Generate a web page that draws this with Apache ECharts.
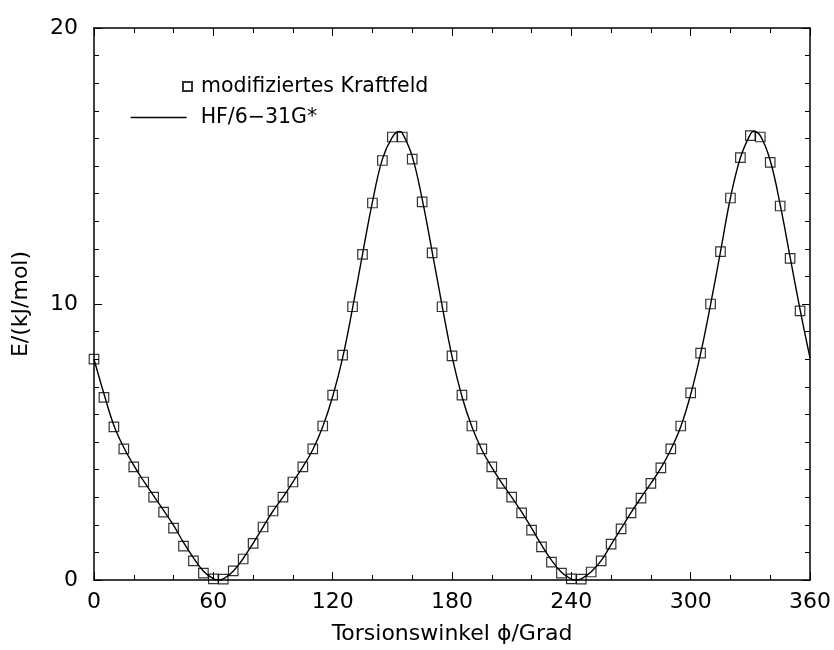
<!DOCTYPE html>
<html>
<head>
<meta charset="utf-8">
<script src="https://cdn.jsdelivr.net/npm/echarts@6/dist/echarts.min.js"></script>
<style>
html,body{margin:0;padding:0;background:#fff;}
#chart{width:834px;height:650px;}
</style>
</head>
<body>
<div id="chart"></div>
<script>
// Torsion angles (degrees) of the force-field points
var ffAngles = [0,5,10,15,20,25,30,35,40,45,50,55,60,65,70,75,80,85,90,95,100,105,110,115,120,125,130,135,140,145,150,155,160,165,170,175,180,185,190,195,200,205,210,215,220,225,230,235,240,245,250,255,260,265,270,275,280,285,290,295,300,305,310,315,320,325,330,335,340,345,350,355];
// "modifiziertes Kraftfeld" energies (kJ/mol)
var ffEnergy = [8.0,6.62,5.55,4.75,4.1,3.55,3.0,2.46,1.88,1.23,0.69,0.25,0.04,0.03,0.33,0.76,1.33,1.92,2.5,3.0,3.55,4.1,4.75,5.58,6.7,8.15,9.9,11.8,13.66,15.2,16.05,16.05,15.25,13.7,11.85,9.9,8.12,6.7,5.58,4.75,4.1,3.5,3.0,2.43,1.81,1.2,0.65,0.25,0.04,0.03,0.29,0.69,1.3,1.85,2.43,2.97,3.5,4.06,4.75,5.58,6.78,8.22,10.0,11.9,13.84,15.3,16.1,16.05,15.13,13.55,11.65,9.75];
// HF/6-31G* curve: angles and energies
var hfAngles = [0,5,10,15,20,25,30,35,40,45,50,55,60,62,65,70,75,80,85,90,95,100,105,110,115,120,125,130,135,140,145,150,153.5,155,160,165,170,175,180,185,190,195,200,205,210,215,220,225,230,235,240,242,245,250,255,260,265,270,275,280,285,290,295,300,305,310,315,320,325,330,331.5,335,340,345,350,355,360];
var hfEnergy = [8.0,6.75,5.6,4.8,4.15,3.58,3.05,2.52,1.98,1.36,0.8,0.32,0.05,0.0,0.04,0.32,0.78,1.33,1.92,2.5,3.0,3.55,4.1,4.72,5.55,6.65,8.05,9.85,11.8,13.7,15.25,16.05,16.25,16.2,15.35,13.8,11.9,9.95,8.1,6.65,5.55,4.72,4.08,3.52,3.0,2.47,1.88,1.27,0.72,0.28,0.03,0.0,0.04,0.3,0.7,1.28,1.86,2.44,2.98,3.5,4.05,4.72,5.55,6.72,8.2,9.98,11.9,13.85,15.3,16.15,16.25,16.1,15.2,13.6,11.7,9.8,8.05];
var xTicks = [0,60,120,180,240,300,360];
var yTicks = [0,10,20];

var FONT = '"DejaVu Sans", "Liberation Sans", Arial, sans-serif';
var ffData = ffAngles.map(function(a,i){return [a, ffEnergy[i]];});
var hfData = hfAngles.map(function(a,i){return [a, hfEnergy[i]];});

var axisLine = {show:true, onZero:false, lineStyle:{color:'#000', width:1.5}};
function xAxisCfg(pos, showLabel){
  return {
    type:'value', position:pos, min:xTicks[0], max:xTicks[xTicks.length-1], interval:60,
    axisLine:axisLine,
    axisTick:{show:true, inside:true, length:8, lineStyle:{color:'#000', width:1}},
    minorTick:{show:true, splitNumber:3, length:5, lineStyle:{color:'#000', width:1}},
    splitLine:{show:false}, minorSplitLine:{show:false},
    axisLabel:{show:showLabel, color:'#000', fontSize:22, fontFamily:FONT, margin:11},
    name: showLabel ? 'Torsionswinkel \u03D5/Grad' : '',
    nameLocation:'middle', nameGap:43,
    nameTextStyle:{color:'#000', fontSize:22, fontFamily:FONT}
  };
}
function yAxisCfg(pos, showLabel){
  return {
    type:'value', position:pos, min:yTicks[0], max:yTicks[yTicks.length-1], interval:10,
    axisLine:axisLine,
    axisTick:{show:true, inside:true, length:8, lineStyle:{color:'#000', width:1}},
    minorTick:{show:true, splitNumber:10, length:5, lineStyle:{color:'#000', width:1}},
    splitLine:{show:false}, minorSplitLine:{show:false},
    axisLabel:{show:showLabel, color:'#000', fontSize:22, fontFamily:FONT, margin:16},
    name: showLabel ? 'E/(kJ/mol)' : '',
    nameLocation:'middle', nameGap:62, nameRotate:90,
    nameTextStyle:{color:'#000', fontSize:22, fontFamily:FONT}
  };
}

var chart = echarts.init(document.getElementById('chart'), null, {renderer:'canvas'});
chart.setOption({
  animation:false,
  backgroundColor:'#fff',
  grid:{left:94, right:23, top:28, bottom:70, containLabel:false},
  xAxis:[xAxisCfg('bottom', true), xAxisCfg('top', false)],
  yAxis:[yAxisCfg('left', true), yAxisCfg('right', false)],
  legend:[
    {data:[{name:'modifiziertes Kraftfeld', icon:'rect'}], left:177, top:71, itemWidth:9, itemHeight:9,
     textStyle:{color:'#000', fontSize:20.5, fontFamily:FONT, padding:[0,0,0,4]}},
    {data:[{name:'HF/6\u221231G*'}], left:125, top:102, itemWidth:56, itemHeight:14,
     itemStyle:{opacity:0},
     lineStyle:{color:'#000', width:1.3, opacity:1},
     textStyle:{color:'#000', fontSize:20.5, fontFamily:FONT, padding:[0,0,0,9]}}
  ],
  series:[
    {name:'HF/6\u221231G*', type:'line', data:hfData, smooth:0.4, symbol:'none',
     lineStyle:{color:'#000', width:1.4}, itemStyle:{color:'#000'}, z:2},
    {name:'modifiziertes Kraftfeld', type:'scatter', data:ffData, symbol:'rect', symbolSize:9.5,
     itemStyle:{color:'rgba(255,255,255,0)', borderColor:'#000', borderWidth:1.2}, z:3}
  ]
});
</script>
</body>
</html>
